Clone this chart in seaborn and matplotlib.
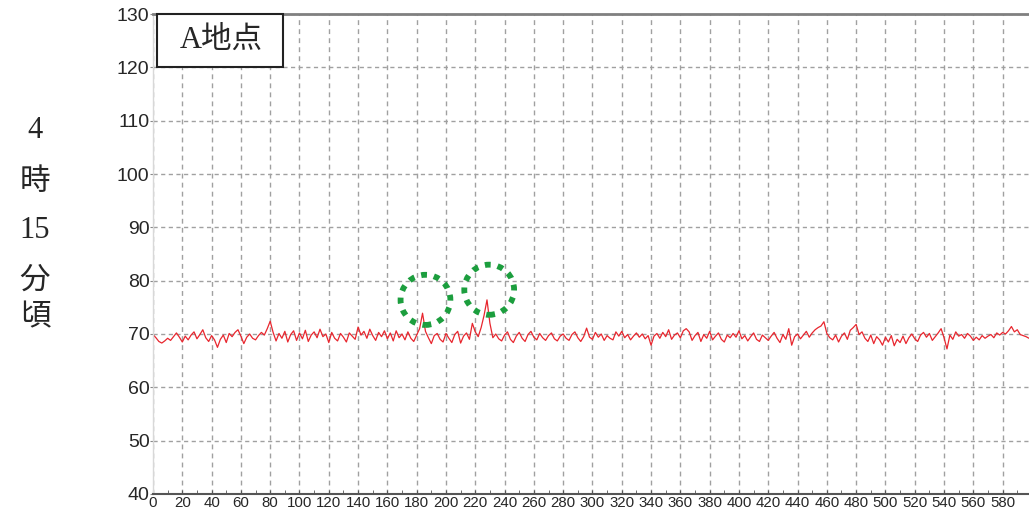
import numpy as np
import pandas as pd
import matplotlib
matplotlib.use("Agg")
import matplotlib.pyplot as plt
from matplotlib.patches import Rectangle, Ellipse
import seaborn as sns

# ---- data (x step 2) ----
x_start, x_step = 0, 2
values = [
    69.9, 69.3, 68.6, 68.3, 68.7, 69.2, 68.8, 69.5, 70.2, 69.4,
    68.5, 69.6, 68.9, 69.8, 70.4, 69.1, 69.9, 70.8, 69.3, 68.6,
    69.7, 68.9, 67.5, 69.0, 69.8, 68.4, 70.1, 69.5, 70.3, 70.8,
    69.6, 68.2, 69.4, 70.0, 69.2, 68.9, 69.7, 70.3, 69.8, 71.0,
    72.4, 70.3, 68.7, 70.1, 69.2, 70.5, 68.5, 69.9, 70.6, 68.8,
    70.2, 69.1, 70.7, 68.6, 69.8, 70.4, 69.3, 70.9, 69.5, 70.0,
    68.4, 70.3, 69.2, 68.7, 70.1, 69.4, 68.5, 70.2, 69.6, 69.0,
    71.3, 69.8, 70.5, 69.2, 70.9, 69.7, 68.8, 70.3, 69.5, 70.6,
    69.1, 70.2, 68.7, 70.6, 69.3, 70.0, 68.9, 70.4, 69.2, 68.6,
    69.8, 71.0, 73.9, 70.5, 69.3, 68.2, 69.7, 70.1, 69.0, 68.5,
    70.1, 69.2, 68.4, 69.9, 70.5, 68.3, 69.6, 70.2, 69.0, 72.0,
    70.4, 69.5, 71.2, 73.5, 76.4, 72.0, 69.3, 70.0, 69.1, 68.7,
    69.8, 70.4, 69.0, 68.4, 69.6, 70.3, 69.2, 68.6, 69.9, 70.5,
    69.4, 68.9, 70.1, 69.3, 68.8, 69.7, 70.2, 69.1, 68.7, 69.6,
    70.0, 69.2, 68.8, 69.9, 70.4, 69.3, 68.6, 69.5, 71.1, 69.4,
    69.0, 70.3, 69.4, 70.0, 68.8, 69.7, 69.2, 68.9, 70.4, 69.6,
    70.5, 69.3, 69.9, 68.9, 69.6, 70.2, 69.4, 70.0, 69.1, 69.7,
    67.9, 69.6, 70.1, 69.2, 70.3, 69.5, 70.8, 69.0, 69.8, 70.2,
    69.3, 70.6, 71.0, 70.4, 68.8, 69.7, 70.3, 68.6, 69.9, 69.2,
    70.5, 68.9, 69.6, 70.2, 69.0, 68.5, 69.8, 69.3, 70.1, 69.4,
    70.6, 69.1, 69.7, 68.7, 69.5, 70.2, 69.0, 68.6, 69.8, 69.3,
    68.8, 69.6, 70.3, 69.2, 68.4, 69.9, 69.0, 71.0, 67.9, 69.5,
    70.0, 69.1, 69.8, 70.5, 69.4, 70.2, 70.8, 71.2, 71.5, 72.3,
    70.1, 69.3, 68.9, 69.8, 68.5, 69.6, 70.2, 69.0, 70.7, 71.2,
    71.8, 69.9, 70.4, 69.2, 68.6, 69.8, 68.2, 69.5, 68.9, 67.9,
    69.4, 68.5, 69.7, 67.8, 69.0, 68.4, 69.6, 68.2, 69.3, 70.0,
    69.1, 68.6, 69.8, 70.3, 69.4, 70.1, 68.8, 69.5, 70.2, 71.0,
    69.3, 67.2, 69.8, 69.0, 70.4, 69.6, 69.9, 69.2, 70.1, 69.6,
    68.8, 69.4, 68.9, 69.7, 69.2, 69.6, 69.9, 69.3, 70.2, 69.8,
    70.3, 70.0, 70.6, 71.4, 70.4, 70.8, 69.9, 69.7, 69.5, 69.2,
]
x_values = [x_start + i * x_step for i in range(len(values))]

x_ticks = list(range(0, 600, 20))
y_ticks = list(range(40, 140, 10))
station_label = "A地点"
time_label = ["4", "時", "15", "分", "頃"]
highlight_centers = [(186, 76.4), (229.5, 78.3)]

df = pd.DataFrame({"x": x_values, "level": values})

# ---- figure ----
sns.set_style("white")
plt.rcParams["font.family"] = ["Liberation Sans", "Noto Sans CJK JP"]

fig = plt.figure(figsize=(10.29, 5.13), dpi=100)
ax = fig.add_axes([153 / 1029, 19 / 513, 1 - 153 / 1029, 480 / 513])

sns.lineplot(data=df, x="x", y="level", ax=ax, color="#e8262e", linewidth=0.9)

ax.set_xlim(0, 598)
ax.set_ylim(40, 130)
ax.set_xticks(x_ticks)
ax.set_xticks(list(range(10, 600, 20)), minor=True)
ax.set_yticks(y_ticks)
ax.set_xticklabels([str(t) for t in x_ticks], fontsize=10.8)
ax.set_yticklabels([str(t) for t in y_ticks], fontsize=14)
ax.set_xlabel("")
ax.set_ylabel("")

ax.tick_params(axis="x", which="both", direction="in", length=3, pad=1.5,
               color="#555555", bottom=True)
ax.tick_params(axis="y", direction="out", length=2, pad=0.5, color="#888888", left=True)

vgrid_kw = dict(color="#a0a0a0", linewidth=1.0, linestyle=(0, (3.5, 3.0)))
hgrid_kw = dict(color="#a0a0a0", linewidth=1.0, linestyle=(0, (3.0, 2.5)))
ax.grid(True, axis="x", which="major", **vgrid_kw)
ax.grid(True, axis="y", which="major", **hgrid_kw)

ax.spines["right"].set_visible(False)
ax.spines["left"].set_color("#d8d8d8")
ax.spines["left"].set_linewidth(1.0)
ax.spines["bottom"].set_color("#555555")
ax.spines["bottom"].set_linewidth(1.5)
ax.spines["top"].set_color("#808080")
ax.spines["top"].set_linewidth(2.0)
ax.spines["top"].set_linestyle((0, (3, 1)))

# station box
ax.add_patch(Rectangle((2.7, 120), 86, 10, facecolor="white", edgecolor="#222222",
                       linewidth=1.5, zorder=5, clip_on=False))
ax.text(46.5, 125.0, station_label, ha="center", va="center", fontsize=22,
        family=["Liberation Serif", "Noto Sans CJK JP"], zorder=6)

# highlight circles
for cx, cy in highlight_centers:
    ax.add_patch(Ellipse((cx, cy), 34, 9.4, fill=False, edgecolor="#1c9e3e",
                         linewidth=4.2, linestyle=(0, (1, 1.2)), zorder=4))

# time label on the left
label_y = [130, 183, 230, 281, 318]
for txt, yy in zip(time_label, label_y):
    fig.text(35 / 1029, 1 - yy / 513, txt, ha="center", va="center", fontsize=22,
             family=["Liberation Serif", "Noto Sans CJK JP"])

fig.savefig("out.png", dpi=100)
